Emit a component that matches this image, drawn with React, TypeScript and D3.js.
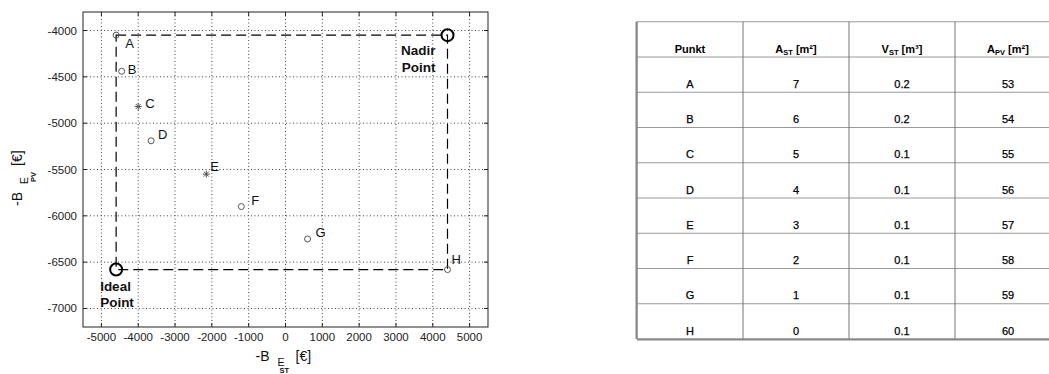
import React from "react";
import * as d3 from "d3";

// points of the pareto plot
const pointNames = ["A", "B", "C", "D", "E", "F", "G", "H"];
const bST = [-4600, -4450, -4000, -3650, -2150, -1200, 600, 4400];
const bPV = [-4050, -4440, -4820, -5190, -5550, -5900, -6250, -6580];
const markers = ["o", "o", "*", "o", "*", "o", "o", "o"];
// label offsets in px (dx, dy of label centre)
const labelDx = [9, 6, 7, 7, 4, 10, 8, 4];
const labelDy = [8, -2, -3, -6, -8, -6, -6, -10];

const xTicks = [-5000, -4000, -3000, -2000, -1000, 0, 1000, 2000, 3000, 4000, 5000];
const yTicks = [-4000, -4500, -5000, -5500, -6000, -6500, -7000];

// table
const punkt = ["A", "B", "C", "D", "E", "F", "G", "H"];
const aST = ["7", "6", "5", "4", "3", "2", "1", "0"];
const vST = ["0.2", "0.2", "0.1", "0.1", "0.1", "0.1", "0.1", "0.1"];
const aPV = ["53", "54", "55", "56", "57", "58", "59", "60"];

const font = "'Liberation Sans', Arial, Helvetica, sans-serif";

const Plot = () => {
  const left = 83, right = 488, top = 12, bottom = 327;
  const x = d3.scaleLinear().domain([-5500, 5500]).range([left, right]);
  const y = d3.scaleLinear().domain([-3800, -7200]).range([top, bottom]);

  const ideal = { x: d3.min(bST), y: d3.min(bPV) };
  const nadir = { x: d3.max(bST), y: d3.max(bPV) };

  const cx = (left + right) / 2;
  const cy = 180;

  return (
    <g fontFamily={font}>
      {/* grid */}
      {xTicks.map(t => (
        <line key={"gx" + t} x1={x(t)} x2={x(t)} y1={top} y2={bottom}
          stroke="#444" strokeWidth={1} strokeDasharray="1 2.5" />
      ))}
      {yTicks.map(t => (
        <line key={"gy" + t} x1={left} x2={right} y1={y(t)} y2={y(t)}
          stroke="#444" strokeWidth={1} strokeDasharray="1 2.5" />
      ))}
      {/* ticks on all sides */}
      {xTicks.map(t => (
        <g key={"tx" + t}>
          <line x1={x(t)} x2={x(t)} y1={bottom} y2={bottom - 4} stroke="#222" />
          <line x1={x(t)} x2={x(t)} y1={top} y2={top + 4} stroke="#222" />
          <text x={x(t)} y={bottom + 10} fontSize={11.5} fill="#222"
            textAnchor="middle" dominantBaseline="central">{t}</text>
        </g>
      ))}
      {yTicks.map(t => (
        <g key={"ty" + t}>
          <line x1={left} x2={left + 4} y1={y(t)} y2={y(t)} stroke="#222" />
          <line x1={right} x2={right - 4} y1={y(t)} y2={y(t)} stroke="#222" />
          <text x={left - 6} y={y(t)} fontSize={11.5} fill="#222"
            textAnchor="end" dominantBaseline="central">{t}</text>
        </g>
      ))}
      <rect x={left} y={top} width={right - left} height={bottom - top}
        fill="none" stroke="#222" strokeWidth={1} />

      {/* dashed box between ideal and nadir */}
      <rect x={x(ideal.x)} y={y(nadir.y)} width={x(nadir.x) - x(ideal.x)}
        height={y(ideal.y) - y(nadir.y)} fill="none" stroke="#000"
        strokeWidth={1.2} strokeDasharray="10 5" />

      {/* points */}
      {pointNames.map((n, i) => {
        const px = x(bST[i]), py = y(bPV[i]);
        return (
          <g key={n}>
            {markers[i] === "o" ? (
              <circle cx={px} cy={py} r={3} fill="none" stroke="#555" strokeWidth={1} />
            ) : (
              <g stroke="#555" strokeWidth={1}>
                <line x1={px - 3.5} x2={px + 3.5} y1={py} y2={py} />
                <line x1={px} x2={px} y1={py - 3.5} y2={py + 3.5} />
                <line x1={px - 2.5} x2={px + 2.5} y1={py - 2.5} y2={py + 2.5} />
                <line x1={px - 2.5} x2={px + 2.5} y1={py + 2.5} y2={py - 2.5} />
              </g>
            )}
            <text x={px + labelDx[i]} y={py + labelDy[i]} fontSize={13} fill="#111"
              dominantBaseline="central">{n}</text>
          </g>
        );
      })}

      {/* ideal & nadir */}
      <circle cx={x(ideal.x)} cy={y(ideal.y)} r={6} fill="none" stroke="#000" strokeWidth={2} />
      <circle cx={x(nadir.x)} cy={y(nadir.y)} r={6} fill="none" stroke="#000" strokeWidth={2} />
      <text fontSize={13.5} fontWeight="bold" fill="#111">
        <tspan x={x(ideal.x) - 16} y={y(ideal.y) + 21}>Ideal</tspan>
        <tspan x={x(ideal.x) - 16} y={y(ideal.y) + 37}>Point</tspan>
      </text>
      <text fontSize={13.5} fontWeight="bold" fill="#111" textAnchor="end">
        <tspan x={x(nadir.x) - 12} y={y(nadir.y) + 20}>Nadir</tspan>
        <tspan x={x(nadir.x) - 12} y={y(nadir.y) + 37}>Point</tspan>
      </text>

      {/* x label */}
      <g fill="#111">
        <text x={cx - 30} y={361} fontSize={14}>-B</text>
        <text x={cx - 8} y={365.5} fontSize={10.5}>E</text>
        <text x={cx - 6} y={373} fontSize={7.5} fontWeight="bold">ST</text>
        <text x={cx + 10} y={361} fontSize={14}>[€]</text>
      </g>
      {/* y label */}
      <g fill="#111" transform={`translate(22, ${cy}) rotate(-90)`}>
        <text x={-26} y={0} fontSize={14}>-B</text>
        <text x={-4} y={5.5} fontSize={10.5}>E</text>
        <text x={-2} y={14} fontSize={7.5} fontWeight="bold">PV</text>
        <text x={14} y={0} fontSize={14}>[€]</text>
      </g>
    </g>
  );
};

const Table = () => {
  const left = 637, colW = 106, rowH = 35.25, bottomY = 339;
  const nRows = punkt.length + 1;
  const topY = bottomY - nRows * rowH;
  const cols = [punkt, aST, vST, aPV];
  const rowBottom = (r: number) => topY + (r + 1) * rowH;
  const colCenter = (c: number) => left + c * colW + colW / 2;

  const headers = [
    <tspan>Punkt</tspan>,
    <>
      <tspan>A</tspan><tspan dy={3} fontSize={7.5}>ST</tspan><tspan dy={-3}> [m²]</tspan>
    </>,
    <>
      <tspan>V</tspan><tspan dy={3} fontSize={7.5}>ST</tspan><tspan dy={-3}> [m³]</tspan>
    </>,
    <>
      <tspan>A</tspan><tspan dy={3} fontSize={7.5}>PV</tspan><tspan dy={-3}> [m²]</tspan>
    </>,
  ];

  return (
    <g fontFamily={font}>
      {/* horizontal rules */}
      {d3.range(nRows + 1).map(r => (
        <line key={"h" + r} x1={left} x2={left + 4 * colW} y1={topY + r * rowH}
          y2={topY + r * rowH} stroke="#999" strokeWidth={1} />
      ))}
      {d3.range(5).map(c => (
        <line key={"v" + c} x1={left + c * colW} x2={left + c * colW} y1={topY}
          y2={bottomY} stroke="#777" strokeWidth={1} />
      ))}
      <line x1={left} x2={left + 4 * colW} y1={bottomY + 0.5} y2={bottomY + 0.5}
        stroke="#888" strokeWidth={2} />
      <line x1={left - 0.5} x2={left - 0.5} y1={topY} y2={bottomY} stroke="#888" strokeWidth={2} />

      {headers.map((h, c) => (
        <text key={"hd" + c} x={colCenter(c)} y={rowBottom(0) - 8} fontSize={11}
          fontWeight="bold" textAnchor="middle" dominantBaseline="central" fill="#000">
          {h}
        </text>
      ))}
      {cols.map((col, c) =>
        col.map((v, r) => (
          <text key={c + "-" + r} x={colCenter(c)} y={rowBottom(r + 1) - 8.5}
            fontSize={11} textAnchor="middle" dominantBaseline="central" fill="#000"
            stroke="#000" strokeWidth={0.25}>
            {v}
          </text>
        ))
      )}
    </g>
  );
};

const App = () => (
  <svg width={1049} height={374} style={{ position: "absolute", left: 0, top: 0, background: "#fff" }}>
    <rect width={1049} height={374} fill="#fff" />
    <Plot />
    <Table />
  </svg>
);

export default App;
